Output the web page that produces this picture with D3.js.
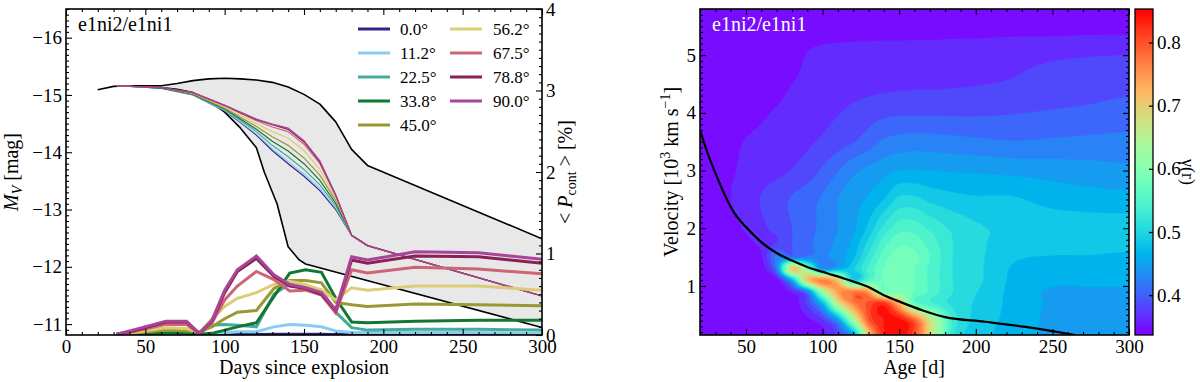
<!DOCTYPE html>
<html><head><meta charset="utf-8">
<script src="https://cdn.jsdelivr.net/npm/d3@7"></script>
<style>
body{margin:0;background:#fff}
svg{display:block}
text{font-family:"Liberation Serif","Times New Roman",serif;fill:#000}
</style></head>
<body><svg id="c" width="1200" height="382"></svg>
<script>
// ---------------- DATA ----------------
const angleLabels = ["0.0°","11.2°","22.5°","33.8°","45.0°","56.2°","67.5°","78.8°","90.0°"];
const angleColors = ["#332288","#88CCEE","#44AA99","#117733","#999933","#DDCC77","#CC6677","#882255","#AA4499"];

// envelope (black curves, grey band)
const upperAges = [20,30,40,60,70,80,90,100,110,120,130,140,150,160,170,180,190,300];
const upperMv   = [-15.09,-15.15,-15.16,-15.16,-15.2,-15.25,-15.28,-15.29,-15.28,-15.26,-15.22,-15.14,-15.01,-14.84,-14.53,-14.05,-13.77,-12.49];
const lowerAges = [32,50,60,70,80,90,100,110,120,125,133,140,147,151,300];
const lowerMv   = [-15.16,-15.15,-15.13,-15.1,-15.04,-14.9,-14.7,-14.42,-14.08,-13.65,-13.1,-12.35,-12.12,-12.05,-10.94];

// light curves per angle
const lcAges = [32,60,80,100,110,120,130,140,150,160,170,180,190,300];
const mv00 = [-15.16,-15.12,-15.0,-14.72,-14.52,-14.3,-14.03,-13.8,-13.58,-13.33,-13.0,-12.55,-12.37,-11.49];
const mv11 = [-15.16,-15.12,-15.0,-14.73,-14.53,-14.32,-14.06,-13.84,-13.62,-13.37,-13.03,-12.55,-12.37,-11.49];
const mv22 = [-15.16,-15.12,-15.01,-14.74,-14.56,-14.36,-14.12,-13.92,-13.70,-13.43,-13.07,-12.55,-12.37,-11.49];
const mv34 = [-15.16,-15.12,-15.01,-14.76,-14.58,-14.40,-14.19,-14.02,-13.80,-13.51,-13.11,-12.55,-12.37,-11.49];
const mv45 = [-15.16,-15.13,-15.02,-14.77,-14.61,-14.45,-14.27,-14.12,-13.90,-13.60,-13.16,-12.55,-12.37,-11.49];
const mv56 = [-15.16,-15.13,-15.03,-14.79,-14.65,-14.50,-14.36,-14.25,-14.03,-13.70,-13.20,-12.55,-12.37,-11.49];
const mv67 = [-15.16,-15.13,-15.04,-14.81,-14.68,-14.55,-14.44,-14.36,-14.14,-13.80,-13.24,-12.55,-12.37,-11.49];
const mv79 = [-15.16,-15.13,-15.04,-14.82,-14.69,-14.57,-14.48,-14.40,-14.18,-13.83,-13.25,-12.55,-12.37,-11.49];
const mv90 = [-15.16,-15.13,-15.04,-14.82,-14.70,-14.58,-14.49,-14.42,-14.20,-13.85,-13.26,-12.55,-12.37,-11.49];

// continuum polarisation per angle
const polAges = [32,42,63,76,84,92,100,108,120,131,141,151,161,170,180,190,220,260,300];
const pol00 = [0,0,0,0,0,0,0,0.005,0.005,0.01,0.01,0.01,0.01,0.005,0.005,0.005,0.005,0.005,0.005];
const pol11 = [0,0,0.01,0.01,0,0.02,0.03,0.04,0.04,0.10,0.13,0.12,0.10,0.05,0.03,0.03,0.03,0.03,0.02];
const pol22 = [0,0.01,0.03,0.03,0.02,0.12,0.13,0.12,0.10,0.50,0.63,0.58,0.55,0.28,0.09,0.06,0.07,0.07,0.06];
const pol34 = [0,0.01,0.02,0.02,0.01,0.02,0.06,0.10,0.15,0.47,0.76,0.80,0.77,0.45,0.16,0.15,0.17,0.18,0.18];
const pol45 = [0,0.02,0.06,0.05,0.04,0.10,0.20,0.28,0.30,0.57,0.67,0.67,0.64,0.40,0.37,0.35,0.38,0.37,0.36];
const pol56 = [0,0.03,0.09,0.08,0.03,0.20,0.35,0.45,0.52,0.62,0.66,0.62,0.55,0.43,0.58,0.55,0.60,0.60,0.55];
const pol67 = [0.01,0.04,0.13,0.13,0.02,0.15,0.43,0.60,0.78,0.68,0.54,0.55,0.49,0.27,0.80,0.76,0.83,0.81,0.75];
const pol79 = [0.01,0.05,0.16,0.16,0.02,0.17,0.52,0.78,0.94,0.72,0.60,0.57,0.50,0.30,0.92,0.88,0.97,0.96,0.88];
const pol90 = [0.01,0.06,0.17,0.17,0.02,0.18,0.55,0.80,0.97,0.74,0.62,0.58,0.52,0.31,0.96,0.92,1.02,1.01,0.93];

// right panel: gamma(r) field on (age, velocity) grid
const gridAges = [20,35,50,60,70,80,90,100,110,120,130,140,150,160,170,185,200,225,250,275,300];
const gridVels = [0.15,0.4,0.7,0.9,1.1,1.3,1.5,1.75,2.0,2.5,3.0,3.5,4.0,4.5,5.0,5.5,5.8];
const gV015 = [0.34,0.34,0.34,0.34,0.34,0.34,0.342,0.35,0.38,0.45,0.70,0.83,0.85,0.80,0.68,0.52,0.485,0.466,0.45,0.445,0.445];
const gV040 = [0.34,0.34,0.34,0.34,0.34,0.342,0.35,0.37,0.44,0.62,0.79,0.835,0.845,0.79,0.67,0.53,0.488,0.468,0.45,0.447,0.447];
const gV070 = [0.34,0.34,0.34,0.34,0.34,0.345,0.38,0.47,0.66,0.76,0.80,0.82,0.72,0.57,0.54,0.51,0.492,0.468,0.452,0.45,0.45];
const gV090 = [0.34,0.34,0.34,0.34,0.342,0.36,0.42,0.62,0.74,0.77,0.74,0.58,0.585,0.575,0.55,0.515,0.496,0.468,0.452,0.452,0.452];
const gV110 = [0.34,0.34,0.34,0.34,0.345,0.46,0.70,0.76,0.70,0.50,0.55,0.58,0.585,0.575,0.55,0.515,0.5,0.47,0.46,0.46,0.46];
const gV130 = [0.34,0.34,0.342,0.345,0.42,0.70,0.60,0.44,0.46,0.49,0.54,0.575,0.585,0.575,0.55,0.515,0.5,0.472,0.466,0.466,0.465];
const gV150 = [0.34,0.34,0.345,0.352,0.42,0.41,0.42,0.43,0.445,0.47,0.52,0.565,0.585,0.58,0.555,0.515,0.5,0.478,0.474,0.474,0.472];
const gV175 = [0.34,0.342,0.35,0.36,0.375,0.395,0.41,0.425,0.44,0.46,0.5,0.545,0.57,0.565,0.545,0.515,0.5,0.484,0.482,0.48,0.48];
const gV200 = [0.34,0.342,0.358,0.37,0.382,0.395,0.408,0.42,0.435,0.45,0.48,0.52,0.545,0.545,0.53,0.51,0.498,0.488,0.486,0.485,0.485];
const gV250 = [0.34,0.35,0.365,0.376,0.386,0.397,0.407,0.418,0.435,0.447,0.458,0.475,0.5,0.5,0.49,0.482,0.478,0.477,0.468,0.464,0.462];
const gV300 = [0.34,0.348,0.36,0.366,0.37,0.376,0.384,0.398,0.414,0.43,0.44,0.448,0.455,0.456,0.455,0.453,0.452,0.449,0.446,0.443,0.44];
const gV350 = [0.34,0.345,0.356,0.36,0.364,0.368,0.372,0.378,0.386,0.394,0.405,0.418,0.423,0.425,0.424,0.422,0.419,0.416,0.418,0.42,0.421];
const gV400 = [0.34,0.342,0.346,0.352,0.357,0.362,0.366,0.37,0.374,0.38,0.386,0.39,0.392,0.392,0.392,0.392,0.392,0.394,0.397,0.4,0.404];
const gV450 = [0.34,0.34,0.342,0.344,0.348,0.355,0.36,0.364,0.366,0.367,0.368,0.37,0.371,0.372,0.372,0.373,0.374,0.377,0.381,0.385,0.388];
const gV500 = [0.34,0.34,0.34,0.34,0.342,0.346,0.356,0.36,0.362,0.363,0.364,0.365,0.365,0.366,0.366,0.367,0.368,0.37,0.372,0.374,0.375];
const gV550 = [0.34,0.34,0.34,0.34,0.34,0.34,0.344,0.345,0.345,0.345,0.345,0.345,0.345,0.345,0.345,0.346,0.346,0.347,0.347,0.348,0.348];
const gV580 = [0.34,0.34,0.34,0.34,0.34,0.34,0.34,0.34,0.34,0.34,0.34,0.34,0.34,0.34,0.34,0.34,0.34,0.34,0.34,0.34,0.34];
const gammaRows = [gV015,gV040,gV070,gV090,gV110,gV130,gV150,gV175,gV200,gV250,gV300,gV350,gV400,gV450,gV500,gV550,gV580];

// black curve in right panel
const photAges = [20,25,32,42,50,60,70,80,90,103,115,130,140,151,165,180,206,238,265];
const photVels = [3.7,3.3,2.83,2.28,2.02,1.76,1.57,1.44,1.33,1.22,1.12,0.98,0.84,0.72,0.58,0.46,0.38,0.27,0.15];

// ticks
const leftXTicks = [0,50,100,150,200,250,300];
const mvTicks = [-16,-15,-14,-13,-12,-11];
const polTicks = [0,1,2,3,4];
const ageTicks = [50,100,150,200,250,300];
const velTicks = [1,2,3,4,5];
const cbTicks = [0.4,0.5,0.6,0.7,0.8];

// ---------------- DRAW ----------------
const svg = d3.select("#c");
const defs = svg.append("defs");
const mvSeries = [mv00,mv11,mv22,mv34,mv45,mv56,mv67,mv79,mv90];
const polSeries = [pol00,pol11,pol22,pol34,pol45,pol56,pol67,pol79,pol90];

const L = {x0:66,x1:542,y0:9,y1:335};
const R = {x0:700,x1:1129,y0:9,y1:335};
const xL = d3.scaleLinear().domain([0,300]).range([L.x0,L.x1]);
const yM = d3.scaleLinear().domain([-16.5,-10.81]).range([L.y0,L.y1]);
const yP = d3.scaleLinear().domain([0,4]).range([L.y1,L.y0]);
const xR = d3.scaleLinear().domain([20,300]).range([R.x0,R.x1]);
const yV = d3.scaleLinear().domain([0.15,5.8]).range([R.y1,R.y0]);
const cb = {x0:1135,x1:1153};
const yC = d3.scaleLinear().domain([0.337,0.853]).range([335,9]);

defs.append("clipPath").attr("id","clipL").append("rect").attr("x",L.x0).attr("y",L.y0).attr("width",L.x1-L.x0).attr("height",L.y1-L.y0);
defs.append("clipPath").attr("id","clipR").append("rect").attr("x",R.x0).attr("y",R.y0).attr("width",R.x1-R.x0).attr("height",R.y1-R.y0);

function rainbow(x){
  x = Math.max(0,Math.min(1,x));
  const r = Math.min(1,Math.abs(2*x-0.5));
  const g = Math.max(0,Math.sin(Math.PI*x));
  const b = Math.max(0,Math.cos(Math.PI*x/2));
  return d3.rgb(Math.round(r*255),Math.round(g*255),Math.round(b*255)).formatHex();
}
const cnorm = v => (v-0.337)/0.516;

// ---- left panel ----
const gL = svg.append("g").attr("clip-path","url(#clipL)");
const upperPts = upperAges.map((a,i)=>[xL(a),yM(upperMv[i])]);
const lowerPts = lowerAges.map((a,i)=>[xL(a),yM(lowerMv[i])]);
gL.append("path").attr("d", d3.line()(upperPts.concat(lowerPts.slice().reverse())) + "Z")
  .attr("fill","#e8e8e8").attr("stroke","none");
gL.append("path").attr("d", d3.line()(upperPts)).attr("fill","none").attr("stroke","#000").attr("stroke-width",1.6).attr("stroke-linejoin","round");
gL.append("path").attr("d", d3.line()(lowerPts)).attr("fill","none").attr("stroke","#000").attr("stroke-width",1.6).attr("stroke-linejoin","round");

const lineMv = d3.line().x(d=>xL(d[0])).y(d=>yM(d[1]));
mvSeries.forEach((s,k)=>{
  gL.append("path").attr("d", lineMv(lcAges.map((a,i)=>[a,s[i]])))
    .attr("fill","none").attr("stroke",angleColors[k]).attr("stroke-width",1.2);
});
const lineP = d3.line().x(d=>xL(d[0])).y(d=>yP(d[1]));
polSeries.forEach((s,k)=>{
  gL.append("path").attr("d", lineP(polAges.map((a,i)=>[a,s[i]])))
    .attr("fill","none").attr("stroke",angleColors[k]).attr("stroke-width",3).attr("stroke-linejoin","miter");
});

// legend
const legRows = [29,53,77,101,125];
angleLabels.forEach((lab,k)=>{
  const col = k<5?0:1, row = k<5?k:k-5;
  const lx0 = col===0?358:450, tx = col===0?400:493;
  const y = legRows[row];
  svg.append("line").attr("x1",lx0).attr("x2",lx0+32).attr("y1",y).attr("y2",y)
    .attr("stroke",angleColors[k]).attr("stroke-width",3);
  svg.append("text").attr("x",tx).attr("y",y+6).attr("font-size",17).text(lab);
});
svg.append("text").attr("x",78).attr("y",31).attr("font-size",20).text("e1ni2/e1ni1");

// ---- right panel: contour field ----
const nx = R.x1-R.x0, ny = R.y1-R.y0;
function fracIndex(arr,v){
  const n = arr.length;
  if(v<=arr[0]) return 0;
  if(v>=arr[n-1]) return n-1;
  const k = d3.bisectRight(arr,v)-1;
  return k + (v-arr[k])/(arr[k+1]-arr[k]);
}
function cr(p0,p1,p2,p3,t){
  return 0.5*((2*p1)+(-p0+p2)*t+(2*p0-5*p1+4*p2-p3)*t*t+(-p0+3*p1-3*p2+p3)*t*t*t);
}
const nCols = gridAges.length, nRows = gridVels.length;
const ci = k=>Math.max(0,Math.min(nCols-1,k)), rj = k=>Math.max(0,Math.min(nRows-1,k));
function sample(fi,fj){
  const i1 = Math.min(nCols-2,Math.floor(fi)), j1 = Math.min(nRows-2,Math.floor(fj));
  const tx = fi-i1, ty = fj-j1;
  let lo=Infinity, hi=-Infinity; const r=[];
  for(let dj=-1; dj<=2; dj++){
    const row = gammaRows[rj(j1+dj)];
    const p0=row[ci(i1-1)],p1=row[ci(i1)],p2=row[ci(i1+1)],p3=row[ci(i1+2)];
    if(dj===0||dj===1){lo=Math.min(lo,p1,p2);hi=Math.max(hi,p1,p2);}
    r.push(cr(p0,p1,p2,p3,tx));
  }
  const v = cr(r[0],r[1],r[2],r[3],ty);
  return Math.max(lo,Math.min(hi,v));
}
const field = new Float64Array(nx*ny);
const fis = d3.range(nx).map(i=>fracIndex(gridAges, xR.invert(R.x0+i+0.5)));
for(let j=0;j<ny;j++){
  const fj = fracIndex(gridVels, yV.invert(R.y0+j+0.5));
  for(let i=0;i<nx;i++) field[j*nx+i] = sample(fis[i],fj);
}
const thresholds = d3.range(0,27).map(k=>0.335+0.02*k);
const contours = d3.contours().size([nx,ny]).thresholds(thresholds)(field);
const gR = svg.append("g").attr("clip-path","url(#clipR)");
const gC = gR.append("g").attr("transform",`translate(${R.x0},${R.y0})`);
const path = d3.geoPath();
contours.forEach(c=>{
  gC.append("path").attr("d",path(c)).attr("fill",rainbow(cnorm(c.value+0.01))).attr("stroke",rainbow(cnorm(c.value+0.01))).attr("stroke-width",0.4);
});
gR.append("path").attr("d", d3.line().curve(d3.curveMonotoneX).x(d=>xR(d[0])).y(d=>yV(d[1]))(photAges.map((a,i)=>[a,photVels[i]])))
  .attr("fill","none").attr("stroke","#000").attr("stroke-width",2.2);
svg.append("text").attr("x",712).attr("y",31).attr("font-size",20).style("fill","#fff").text("e1ni2/e1ni1");

// colorbar
const grad = defs.append("linearGradient").attr("id","cbg").attr("x1",0).attr("x2",0).attr("y1",1).attr("y2",0);
d3.range(0,61).forEach(k=>{ const t=k/60; grad.append("stop").attr("offset",t).attr("stop-color",rainbow(t)); });
svg.append("rect").attr("x",cb.x0).attr("y",9).attr("width",cb.x1-cb.x0).attr("height",326).attr("fill","url(#cbg)").attr("stroke","#000").attr("stroke-width",1.3);

// ---- axes ----
function axis(gen, scale, tf, majors, minors, fmt, pad){
  const gm = svg.append("g").attr("transform",tf)
    .call(gen(scale).tickValues(minors).tickSize(-3).tickFormat(""));
  gm.select(".domain").remove();
  const g = svg.append("g").attr("transform",tf)
    .call(gen(scale).tickValues(majors).tickSize(-6).tickPadding(pad).tickFormat(fmt||""));
  g.select(".domain").remove();
  svg.selectAll(".tick line").attr("stroke","#000").attr("stroke-width",1.1);
  g.selectAll("text").attr("font-size",19).style("font-family",'"Liberation Serif","Times New Roman",serif').attr("fill","#000");
  return g;
}
const minorsOf = (a,b,step,majors)=>d3.range(Math.round(a/step),Math.round(b/step)+1).map(k=>+(k*step).toFixed(4)).filter(v=>!majors.some(m=>Math.abs(m-v)<1e-6));
const fInt = d3.format("d");
// left panel
axis(d3.axisBottom, xL, `translate(0,${L.y1})`, leftXTicks, minorsOf(0,300,10,leftXTicks), fInt, 5);
axis(d3.axisTop, xL, `translate(0,${L.y0})`, leftXTicks, minorsOf(0,300,10,leftXTicks), null, 5);
axis(d3.axisLeft, yM, `translate(${L.x0},0)`, mvTicks, minorsOf(-16.5,-10.9,0.1,mvTicks), fInt, 4);
axis(d3.axisRight, yP, `translate(${L.x1},0)`, polTicks, minorsOf(0,4,0.1,polTicks), fInt, 4);
svg.append("rect").attr("x",L.x0).attr("y",L.y0).attr("width",L.x1-L.x0).attr("height",L.y1-L.y0).attr("fill","none").attr("stroke","#000").attr("stroke-width",1.6);
// right panel
axis(d3.axisBottom, xR, `translate(0,${R.y1})`, ageTicks, minorsOf(20,300,10,ageTicks), fInt, 5);
axis(d3.axisTop, xR, `translate(0,${R.y0})`, ageTicks, minorsOf(20,300,10,ageTicks), null, 5);
axis(d3.axisLeft, yV, `translate(${R.x0},0)`, velTicks, minorsOf(0.2,5.8,0.1,velTicks), fInt, 4);
axis(d3.axisRight, yV, `translate(${R.x1},0)`, velTicks, minorsOf(0.2,5.8,0.1,velTicks), null, 4);
svg.append("rect").attr("x",R.x0).attr("y",R.y0).attr("width",R.x1-R.x0).attr("height",R.y1-R.y0).attr("fill","none").attr("stroke","#000").attr("stroke-width",1.6);
// colorbar axis
const gcb = svg.append("g").attr("transform",`translate(${cb.x1},0)`)
  .call(d3.axisRight(yC).tickValues(cbTicks).tickSize(-4).tickPadding(4).tickFormat(d3.format(".1f")));
gcb.select(".domain").remove();
gcb.selectAll("line").attr("stroke","#000").attr("stroke-width",1.3);
gcb.selectAll("text").attr("font-size",19).style("font-family",'"Liberation Serif","Times New Roman",serif').attr("fill","#000");

// axis labels
svg.append("text").attr("x",304).attr("y",374).attr("text-anchor","middle").attr("font-size",20).text("Days since explosion");
svg.append("text").attr("x",914).attr("y",374).attr("text-anchor","middle").attr("font-size",20).text("Age [d]");
const tM = svg.append("text").attr("transform","translate(18,172) rotate(-90)").attr("text-anchor","middle").attr("font-size",20);
tM.append("tspan").attr("font-style","italic").text("M");
tM.append("tspan").attr("font-style","italic").attr("font-size",14).attr("dy",4).text("V");
tM.append("tspan").attr("dy",-4).text(" [mag]");
const tP = svg.append("text").attr("transform","translate(572,172) rotate(-90)").attr("text-anchor","middle").attr("font-size",20);
tP.append("tspan").text("< ");
tP.append("tspan").attr("font-style","italic").text("P");
tP.append("tspan").attr("font-size",14).attr("dy",4).text("cont");
tP.append("tspan").attr("dy",-4).text(" > [%]");
const tVl = svg.append("text").attr("transform","translate(678,172) rotate(-90)").attr("text-anchor","middle").attr("font-size",20);
tVl.append("tspan").text("Velocity [10");
tVl.append("tspan").attr("font-size",14).attr("dy",-8).text("3");
tVl.append("tspan").attr("dy",8).text(" km s");
tVl.append("tspan").attr("font-size",14).attr("dy",-8).text("−1");
tVl.append("tspan").attr("dy",8).text("]");
svg.append("text").attr("transform","translate(1182,172) rotate(90)").attr("text-anchor","middle").attr("font-size",18).text("γ(r)");
</script></body></html>
